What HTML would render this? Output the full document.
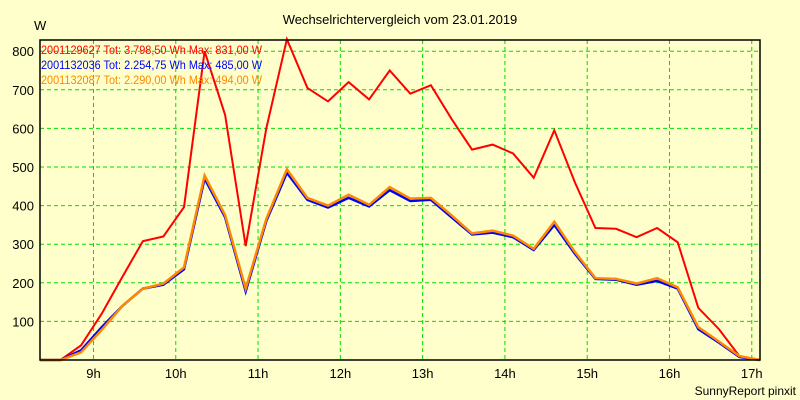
<!DOCTYPE html>
<html><head><meta charset="utf-8"><style>
body{margin:0;background:#ffffcc;}
svg{display:block;font-family:"Liberation Sans",sans-serif;}
</style></head><body>
<svg width="800" height="400" viewBox="0 0 800 400" xmlns="http://www.w3.org/2000/svg">
<rect x="0" y="0" width="800" height="400" fill="#ffffcc"/>
<text x="400" y="24" font-size="13" text-anchor="middle" fill="#000">Wechselrichtervergleich vom 23.01.2019</text>
<text x="34" y="30" font-size="13" fill="#000">W</text>
<g id="grid"></g>
<g id="yticks"></g>
<g id="xticks"></g>
<g id="series"></g>
<rect x="40" y="40" width="720" height="320" fill="none" stroke="#000" stroke-width="1.5"/>
<g font-size="12">
<text x="41" y="54" fill="#ff0000" textLength="221" lengthAdjust="spacingAndGlyphs">2001129627 Tot: 3.798,50 Wh Max: 831,00 W</text>
<text x="41" y="69" fill="#0000ff" textLength="221" lengthAdjust="spacingAndGlyphs">2001132036 Tot: 2.254,75 Wh Max: 485,00 W</text>
<text x="41" y="84" fill="#ff8800" textLength="221" lengthAdjust="spacingAndGlyphs">2001132087 Tot: 2.290,00 Wh Max: 494,00 W</text>
</g>
<text x="796" y="395" font-size="12" text-anchor="end" fill="#000">SunnyReport pinxit</text>
</svg>
<script>
const yTicks=[100,200,300,400,500,600,700,800];
const xTickLabels=["9h","10h","11h","12h","13h","14h","15h","16h","17h"];
const xTickHours=[9,10,11,12,13,14,15,16,17];
const startHour=8+21/60, stepHour=0.25;
const redValues=[0,0,38,120,215,308,320,396,800,635,295,600,831,705,670,720,675,750,690,712,625,545,558,535,472,595,460,342,340,318,342,305,135,80,10,0];
const blueValues=[0,0,25,85,140,185,195,235,470,370,178,360,485,415,395,420,398,440,412,415,370,325,330,318,285,350,275,210,208,195,205,185,80,45,8,0];
const orangeValues=[0,0,20,78,140,185,198,240,478,375,185,365,494,420,400,428,402,448,418,420,375,328,335,322,288,358,280,212,210,198,212,188,85,48,10,0];
const NS="http://www.w3.org/2000/svg";
const L=40,R=760,T=40,B=360,yMax=829;
const hMin=startHour,hMax=17.1;
const xs=h=>L+(h-hMin)/(hMax-hMin)*(R-L);
const ys=v=>B-v/yMax*(B-T);
function mk(tag,attrs,parent){const e=document.createElementNS(NS,tag);for(const k in attrs)e.setAttribute(k,attrs[k]);parent.appendChild(e);return e;}
const grid=document.getElementById('grid'),yt=document.getElementById('yticks'),xt=document.getElementById('xticks'),ser=document.getElementById('series');
yTicks.forEach(v=>{
 const ln=mk('line',{x1:L,x2:R,y1:ys(v),y2:ys(v),stroke:'#00dd00','stroke-dasharray':'4,3'},grid);
 
 
 const t=mk('text',{x:34,y:ys(v)+5,'font-size':13,'text-anchor':'end',fill:'#000'},yt);
 t.textContent=v;
 
 
});
xTickHours.forEach((h,i)=>{
 const ln=mk('line',{x1:xs(h),x2:xs(h),y1:T,y2:B,stroke:'#00dd00','stroke-dasharray':'4,3'},grid);
 
 
 const t=mk('text',{x:xs(h),y:378,'font-size':13,'text-anchor':'middle',fill:'#000'},xt);
 t.textContent=xTickLabels[i];
 
 
});
function line(vals,color,name,w){
 const pts=vals.map((v,i)=>xs(startHour+i*stepHour).toFixed(1)+','+ys(v).toFixed(1)).join(' ');
 const p=mk('polyline',{points:pts,fill:'none',stroke:color,'stroke-width':w,'stroke-linejoin':'miter'},ser);
 
 
}
line(redValues,'#ff0000','series-2001129627',2);
line(blueValues,'#0000ff','series-2001132036',2.5);
line(orangeValues,'#ff8800','series-2001132087',2.5);
</script>
</body></html>
